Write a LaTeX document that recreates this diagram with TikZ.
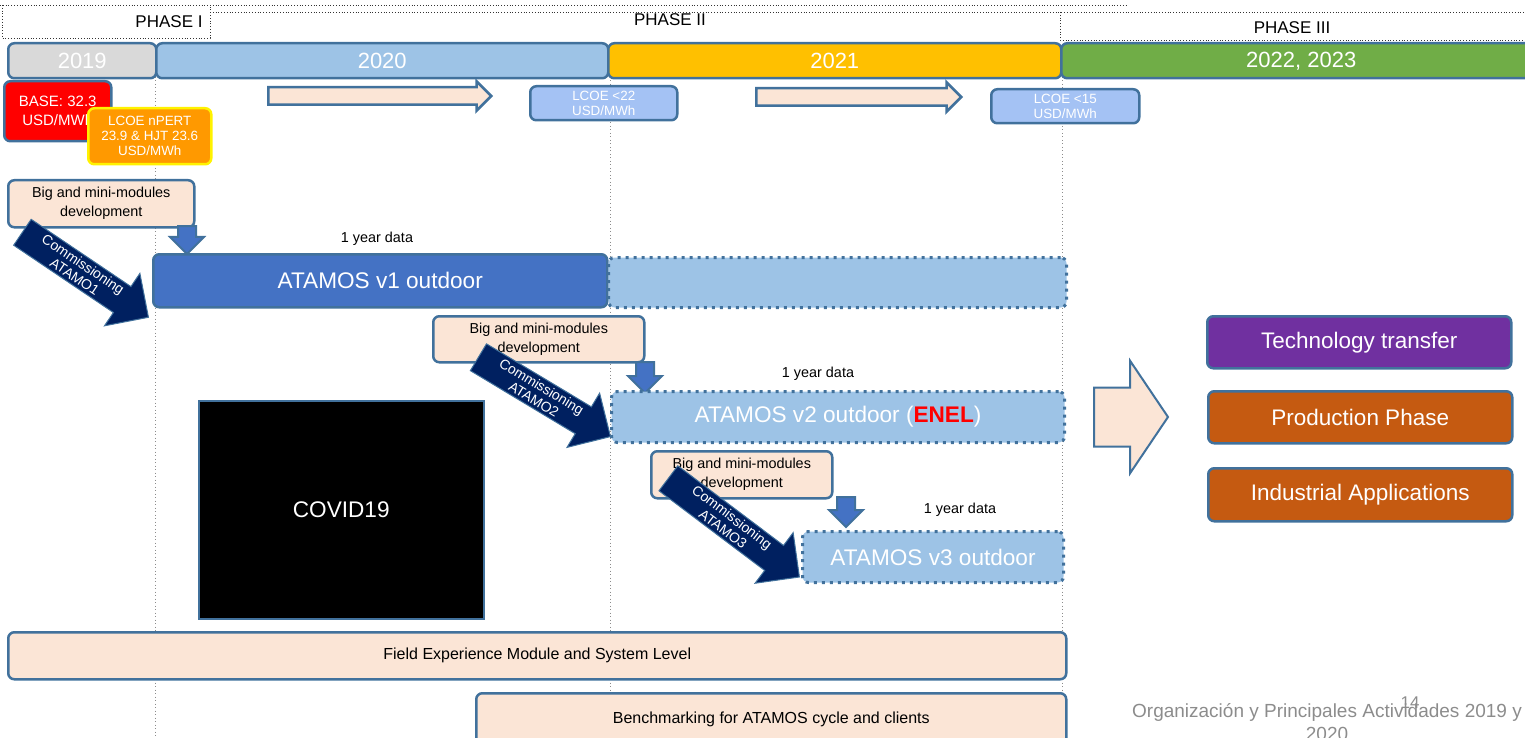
\documentclass[tikz,border=0pt]{standalone}
\usepackage{fontspec}
\setmainfont{Liberation Sans}
\usetikzlibrary{shapes.arrows}

\definecolor{edge}{HTML}{41719C}
\definecolor{grey19}{HTML}{D9D9D9}
\definecolor{blue20}{HTML}{9DC3E6}
\definecolor{gold21}{HTML}{FFC000}
\definecolor{green22}{HTML}{70AD47}
\definecolor{peach}{HTML}{FBE5D6}
\definecolor{lcoe}{HTML}{A4C2F4}
\definecolor{solid}{HTML}{4472C4}
\definecolor{navy}{HTML}{002060}
\definecolor{purple}{HTML}{7030A0}
\definecolor{rust}{HTML}{C55A11}
\definecolor{amber}{HTML}{FF9900}
\definecolor{foot}{HTML}{8C8C8C}

\begin{document}
\begin{tikzpicture}[x=1pt, y=-1pt,
  box/.style={draw=edge, line width=2.5pt, rounded corners=6pt, anchor=north west,
    inner sep=0pt, align=center},
  year/.style={box, text=white, minimum height=35, font=\fontsize{22}{26}\selectfont},
  small/.style={font=\fontsize{14.4}{19}\selectfont},
  tiny/.style={font=\fontsize{13.4}{15}\selectfont},
  wide/.style={font=\fontsize{16}{19}\selectfont},
  big/.style={font=\fontsize{22.6}{26}\selectfont},
  later/.style={draw=edge, line width=3pt, dash pattern=on 3pt off 5pt, fill=blue20},
  phase/.style={font=\fontsize{17}{19}\selectfont},
  border/.style={dotted, line width=0.8pt, black!80},
  guide/.style={draw=black!45, line width=0.8pt, dash pattern=on 1pt off 2.5pt},
  ahead/.style={single arrow, draw=edge, line width=2.5pt, fill=peach, inner xsep=0pt,
    anchor=tail},
  drop/.style={single arrow, draw=edge, line width=2pt, fill=solid, inner sep=8pt,
    single arrow head extend=8pt, shape border rotate=270, anchor=tail},
  commission/.style={single arrow, fill=navy, draw=edge, line width=1pt, text=white,
    align=center, inner xsep=2pt, inner ysep=2.5pt, single arrow head extend=16pt,
    anchor=tail, font=\fontsize{14}{15}\selectfont},
  side/.style={box, text=white, minimum width=304, minimum height=52,
    font=\fontsize{22.5}{26}\selectfont}]
\useasboundingbox (0,0) rectangle (1525,738);

% phase frames
\draw[border] (0,5) -- (1128,5);
\draw[border] (2,5) -- (2,38) -- (210,38) -- (210,5);
\draw[border] (210,12) -- (1525,12);
\draw[border] (1060,12) -- (1060,40) -- (1525,40);
\node[phase] (ph1) at (169,22) {PHASE I};
\node[phase] (ph2) at (670,20) {PHASE II};
\node[phase] (ph3) at (1292,28) {PHASE III};

% year guides
\foreach \x in {155,610,1062}
  \draw[guide] (\x,77) -- (\x,738);

% years
\node[year, fill=grey19, minimum width=148] (y19) at (7,42) {2019};
\node[year, fill=blue20, minimum width=452] (y20) at (155,42) {2020};
\node[year, fill=gold21, minimum width=453] (y21) at (607,42) {2021};
\node[year, fill=green22, minimum width=480] (y22) at (1060,42) {2022, 2023};

% cost targets
\node[box, fill=red, text=white, minimum width=107, minimum height=60,
  font=\fontsize{15}{19}\selectfont] (base) at (3,80) {BASE: 32.3\\USD/MWh};
\node[box, fill=amber, draw=yellow, text=white, minimum width=123, minimum height=56,
  tiny] (npert) at (87,107) {LCOE nPERT\\23.9 \& HJT 23.6\\USD/MWh};
\node[ahead, minimum height=223, inner ysep=7.5pt, single arrow head extend=6pt]
  (go20) at (267,96) {};
\node[box, fill=lcoe, text=white, minimum width=147, minimum height=34, tiny]
  (lc22) at (529,85) {LCOE <22\\USD/MWh};
\node[ahead, minimum height=205, inner ysep=7.5pt, single arrow head extend=6pt]
  (go21) at (755,97) {};
\node[box, fill=lcoe, text=white, minimum width=148, minimum height=34, tiny]
  (lc15) at (990,88) {LCOE <15\\USD/MWh};

% first prototype
\node[box, fill=peach, minimum width=186, minimum height=47, small]
  (dev1) at (7,179) {Big and mini-modules\\development};
\node[drop, minimum height=28] (dn1) at (187,225) {};
\node[commission, rotate=-34, minimum height=152] (com1) at (22,232)
  {Commissioning\\ATAMO1};
\node[small] (data1) at (377,239) {1 year data};
\node[box, fill=solid, text=white, minimum width=454, minimum height=53, big]
  (v1) at (152,253) {ATAMOS v1 outdoor};
\node[box, later, minimum width=458, minimum height=50] (v1b) at (607,256) {};

% second prototype
\node[box, fill=peach, minimum width=211, minimum height=46, small]
  (dev2) at (432,315) {Big and mini-modules\\development};
\node[drop, minimum height=31] (dn2) at (645,361) {};
\node[commission, rotate=-31, minimum height=154] (com2) at (478,357)
  {Commissioning\\ATAMO2};
\node[small] (data2) at (818,374) {1 year data};
\node[box, later, text=white, minimum width=453, minimum height=51, big]
  (v2) at (610,390) {ATAMOS v2 outdoor (\textcolor{red}{\textbf{ENEL}})};

% pandemic
\node[box, fill=black, text=white, rounded corners=0pt, line width=1.5pt,
  minimum width=285, minimum height=218, big] (covid) at (198,400) {COVID19};

% third prototype
\node[box, fill=peach, minimum width=181, minimum height=47, small]
  (dev3) at (650,450) {Big and mini-modules\\development};
\node[drop, minimum height=30] (dn3) at (846,496) {};
\node[commission, rotate=-37, minimum height=164] (com3) at (668,478)
  {Commissioning\\ATAMO3};
\node[small] (data3) at (960,510) {1 year data};
\node[box, later, text=white, minimum width=261, minimum height=51, big]
  (v3) at (801,530) {ATAMOS v3 outdoor};

% phase III outcomes
\node[ahead, line width=2pt, minimum height=74, inner ysep=28.5pt,
  single arrow head extend=26.5pt, single arrow tip angle=112] (next) at (1093,417) {};
\node[side, fill=purple] (tech) at (1206,315) {Technology transfer};
\node[side, fill=rust] (prod) at (1207,390) {Production Phase};
\node[side, fill=rust, minimum height=53] (ind) at (1207,467) {Industrial Applications};

% long running tasks
\node[box, fill=peach, minimum width=1058, minimum height=47, wide]
  (field) at (7,631) {Field Experience Module and System Level};
\node[box, fill=peach, minimum width=590, minimum height=52, wide]
  (bench) at (475,692) {Benchmarking for ATAMOS cycle and clients};

% footer
\node[text=foot, align=center, font=\fontsize{19}{23}\selectfont] (title) at (1327,722)
  {Organización y Principales Actividades 2019 y\\2020};
\node[text=foot, font=\fontsize{17}{18}\selectfont] (page) at (1410,703) {14};
\end{tikzpicture}
\end{document}
